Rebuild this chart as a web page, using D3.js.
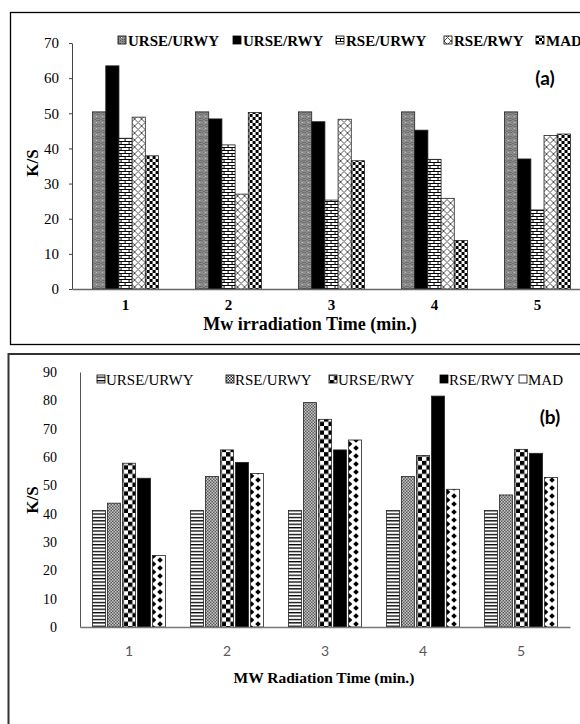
<!DOCTYPE html>
<html>
<head>
<meta charset="utf-8">
<script src="https://cdn.jsdelivr.net/npm/d3@7"></script>
<style>
  html, body { margin: 0; padding: 0; background: #fff; overflow: hidden; }
  svg { display: block; }
</style>
</head>
<body>
<div id="chart"></div>
<script>
const width = 580, height = 724;

// ---- data ----
const categories = ['1', '2', '3', '4', '5'];

// panel (a)
const seriesA = ['URSE/URWY', 'URSE/RWY', 'RSE/URWY', 'RSE/RWY', 'MAD'];
const aUrseUrwy = [50.4, 50.4, 50.4, 50.4, 50.4];
const aUrseRwy  = [63.5, 48.4, 47.6, 45.2, 37.0];
const aRseUrwy  = [42.9, 41.0, 25.3, 36.9, 22.5];
const aRseRwy   = [48.9, 27.0, 48.3, 25.8, 43.7];
const aMad      = [37.9, 50.2, 36.5, 13.8, 44.1];
const yTicksA = [0, 10, 20, 30, 40, 50, 60, 70];

// panel (b)
const seriesB = ['URSE/URWY', 'RSE/URWY', 'URSE/RWY', 'RSE/RWY', 'MAD'];
const bUrseUrwy = [41.1, 41.1, 41.1, 41.1, 41.1];
const bRseUrwy  = [43.7, 53.1, 79.2, 53.1, 46.6];
const bUrseRwy  = [57.8, 62.5, 73.3, 60.5, 62.7];
const bRseRwy   = [52.5, 58.1, 62.5, 81.5, 61.3];
const bMad      = [25.2, 54.2, 66.0, 48.6, 52.8];
const yTicksB = [0, 10, 20, 30, 40, 50, 60, 70, 80, 90];

const valuesA = [aUrseUrwy, aUrseRwy, aRseUrwy, aRseRwy, aMad];
const valuesB = [bUrseUrwy, bRseUrwy, bUrseRwy, bRseRwy, bMad];

const serif = "'Liberation Serif', 'Times New Roman', serif";

const svg = d3.select('#chart')
    .append('svg')
    .attr('width', width)
    .attr('height', height);

const defs = svg.append('defs');

function pattern(id, w, h, x) {
    return defs.append('pattern')
        .attr('id', id)
        .attr('patternUnits', 'userSpaceOnUse')
        .attr('width', w)
        .attr('height', h)
        .attr('x', x || 0);
}

// ---- scales ----
const x0a = d3.scaleBand().domain(categories).range([72, 591]).paddingInner(0.36).paddingOuter(0.2);
const x1a = d3.scaleBand().domain(seriesA).range([0, x0a.bandwidth()]);
const ya = d3.scaleLinear().domain([0, 70]).range([289, 43]);

const x0b = d3.scaleBand().domain(categories).range([80, 570]).paddingInner(0.255).paddingOuter(0.1275);
const x1b = d3.scaleBand().domain(seriesB).range([0, x0b.bandwidth()]).paddingInner(0.13);
const yb = d3.scaleLinear().domain([0, 90]).range([627, 372]);

// ---- fill patterns, panel (a) ----
let p = pattern('a-dots', 6, 6);
p.append('rect').attr('width', 6).attr('height', 6).attr('fill', '#8c8c8c');
[[0, 0], [2, 2], [4, 4], [0, 4], [4, 0], [2, 5]].forEach(([px, py]) =>
    p.append('rect').attr('x', px).attr('y', py).attr('width', 1).attr('height', 1).attr('fill', '#555'));
p.append('rect').attr('x', 3).attr('y', 2).attr('width', 1).attr('height', 1).attr('fill', '#e8e8e8');

p = pattern('a-brick', 8, 6);
p.append('rect').attr('width', 8).attr('height', 6).attr('fill', '#fff');
p.append('path').attr('d', 'M0,0.5H8M0,3.5H8M0.5,0V3.5M4.5,3.5V6').attr('stroke', '#000').attr('stroke-width', 1);

p = pattern('a-cross', 7, 7);
p.append('rect').attr('width', 7).attr('height', 7).attr('fill', '#fff');
p.append('path').attr('d', 'M0,0L7,7M7,0L0,7').attr('stroke', '#555').attr('stroke-width', 1);

p = pattern('a-check', 6, 6);
p.append('rect').attr('width', 6).attr('height', 6).attr('fill', '#fff');
p.append('rect').attr('width', 3).attr('height', 3).attr('fill', '#000');
p.append('rect').attr('x', 3).attr('y', 3).attr('width', 3).attr('height', 3).attr('fill', '#000');

const fillsA = ['url(#a-dots)', '#000', 'url(#a-brick)', 'url(#a-cross)', 'url(#a-check)'];

// ---- fill patterns, panel (b) ----
p = pattern('b-hline', 4, 3.4);
p.append('rect').attr('width', 4).attr('height', 3.4).attr('fill', '#fff');
p.append('rect').attr('width', 4).attr('height', 1.3).attr('fill', '#000');

p = pattern('b-fine', 3, 3);
p.append('rect').attr('width', 3).attr('height', 3).attr('fill', '#fff');
p.append('rect').attr('width', 1.5).attr('height', 1.5).attr('fill', '#222');
p.append('rect').attr('x', 1.5).attr('y', 1.5).attr('width', 1.5).attr('height', 1.5).attr('fill', '#222');

const bw = x1b.bandwidth();
const offCheck = x0b(categories[0]) + x1b('URSE/RWY');
p = pattern('b-check', bw / 3 * 2, bw / 3 * 2, offCheck);
p.append('rect').attr('width', bw / 3 * 2).attr('height', bw / 3 * 2).attr('fill', '#fff');
p.append('rect').attr('width', bw / 3).attr('height', bw / 3).attr('fill', '#000');
p.append('rect').attr('x', bw / 3).attr('y', bw / 3).attr('width', bw / 3).attr('height', bw / 3).attr('fill', '#000');

// diamonds centred in each MAD bar: pattern repeats once per category step
const offMad = x0b(categories[0]) + x1b('MAD');
p = pattern('b-diamond', x0b.step(), 8, offMad);
p.append('rect').attr('width', x0b.step()).attr('height', 8).attr('fill', '#fff');
const dm = (cx, cy, r) => `M${cx},${cy - r}L${cx + r},${cy}L${cx},${cy + r}L${cx - r},${cy}Z`;
p.append('path')
    .attr('d', dm(bw / 2, 4, 2.8) + dm(0, 0, 2.8) + dm(0, 8, 2.8) + dm(bw, 0, 2.8) + dm(bw, 8, 2.8))
    .attr('fill', '#000');

const fillsB = ['url(#b-hline)', 'url(#b-fine)', 'url(#b-check)', '#000', 'url(#b-diamond)'];

// ---- panel frames ----
svg.append('rect').attr('x', 10.5).attr('y', 12.5).attr('width', 620).attr('height', 332)
    .attr('fill', 'none').attr('stroke', '#000').attr('stroke-width', 1.3);
svg.append('rect').attr('x', 8.5).attr('y', 354).attr('width', 620).attr('height', 420)
    .attr('fill', 'none').attr('stroke', '#333').attr('stroke-width', 2);

// ---- panel (a) ----
const gA = svg.append('g');

gA.append('g')
    .selectAll('g')
    .data(categories)
    .enter().append('g')
    .attr('transform', d => `translate(${x0a(d)},0)`)
    .selectAll('rect')
    .data((d, i) => seriesA.map((s, k) => ({ s, k, v: valuesA[k][i] })))
    .enter().append('rect')
    .attr('x', d => x1a(d.s))
    .attr('y', d => ya(d.v))
    .attr('width', x1a.bandwidth())
    .attr('height', d => ya(0) - ya(d.v))
    .attr('fill', d => fillsA[d.k])
    .attr('stroke', '#222')
    .attr('stroke-width', 0.8);

const axA = gA.append('g')
    .attr('transform', 'translate(72,0)')
    .call(d3.axisLeft(ya).tickValues(yTicksA).tickSize(3).tickSizeOuter(0).tickPadding(10));
axA.selectAll('text').attr('font-family', serif).attr('font-size', 15).attr('fill', '#000');
axA.selectAll('line,path').attr('stroke', '#444');

const axAx = gA.append('g')
    .attr('transform', `translate(0,${ya(0)})`)
    .call(d3.axisBottom(x0a).tickSize(0).tickSizeOuter(0).tickPadding(10));
axAx.select('.domain').attr('stroke', '#666').attr('stroke-width', 1.3);
axAx.selectAll('text').attr('font-family', serif).attr('font-size', 15).attr('font-weight', 'bold').attr('fill', '#000');

gA.append('text')
    .attr('transform', 'translate(38,163) rotate(-90)')
    .attr('text-anchor', 'middle')
    .attr('font-family', serif).attr('font-size', 17).attr('font-weight', 'bold')
    .text('K/S');

gA.append('text')
    .attr('x', 310).attr('y', 330)
    .attr('text-anchor', 'middle')
    .attr('font-family', serif).attr('font-size', 18).attr('font-weight', 'bold')
    .text('Mw irradiation Time (min.)');

gA.append('text')
    .attr('x', 545).attr('y', 85)
    .attr('text-anchor', 'middle')
    .attr('font-family', 'Lato, sans-serif').attr('font-size', 19).attr('font-weight', 'bold')
    .text('(a)');

// legend (a)
const legXa = [118, 233, 336, 444, 536];
const legA = gA.append('g')
    .selectAll('g')
    .data(seriesA)
    .enter().append('g')
    .attr('transform', (d, i) => `translate(${legXa[i]},41)`);
legA.append('rect')
    .attr('x', 0).attr('y', -5).attr('width', 8).attr('height', 8)
    .attr('fill', (d, i) => fillsA[i]).attr('stroke', '#000').attr('stroke-width', 0.8);
legA.append('text')
    .attr('x', 10).attr('y', 4.5)
    .attr('font-family', serif).attr('font-size', 15).attr('font-weight', 'bold')
    .text(d => d);

// ---- panel (b) ----
const gB = svg.append('g');

gB.append('g')
    .selectAll('g')
    .data(categories)
    .enter().append('g')
    .attr('transform', d => `translate(${x0b(d)},0)`)
    .selectAll('rect')
    .data((d, i) => seriesB.map((s, k) => ({ s, k, v: valuesB[k][i] })))
    .enter().append('rect')
    .attr('x', d => x1b(d.s))
    .attr('y', d => yb(d.v))
    .attr('width', x1b.bandwidth())
    .attr('height', d => yb(0) - yb(d.v))
    .attr('fill', d => fillsB[d.k])
    .attr('stroke', '#222')
    .attr('stroke-width', 0.8);

const axB = gB.append('g')
    .attr('transform', 'translate(80,0)')
    .call(d3.axisLeft(yb).tickValues(yTicksB).tickSize(0).tickSizeOuter(0).tickPadding(23));
axB.selectAll('text').attr('font-family', serif).attr('font-size', 14).attr('fill', '#000');
axB.select('.domain').attr('stroke', '#555');

const axBx = gB.append('g')
    .attr('transform', `translate(0,${yb(0)})`)
    .call(d3.axisBottom(x0b).tickSize(0).tickSizeOuter(0).tickPadding(19));
axBx.select('.domain').attr('stroke', '#777').attr('stroke-width', 1.5);
axBx.selectAll('text').attr('font-family', 'Lato, sans-serif').attr('font-size', 14).attr('fill', '#595959');

gB.append('text')
    .attr('transform', 'translate(38,500) rotate(-90)')
    .attr('text-anchor', 'middle')
    .attr('font-family', serif).attr('font-size', 17).attr('font-weight', 'bold')
    .text('K/S');

gB.append('text')
    .attr('x', 324).attr('y', 683)
    .attr('text-anchor', 'middle')
    .attr('font-family', serif).attr('font-size', 15.5).attr('font-weight', 'bold')
    .text('MW Radiation Time (min.)');

gB.append('text')
    .attr('x', 550).attr('y', 424)
    .attr('text-anchor', 'middle')
    .attr('font-family', 'Lato, sans-serif').attr('font-size', 19).attr('font-weight', 'bold')
    .text('(b)');

// legend (b)
const legXb = [97, 226, 329, 440, 519];
const legB = gB.append('g')
    .selectAll('g')
    .data(seriesB)
    .enter().append('g')
    .attr('transform', (d, i) => `translate(${legXb[i]},380)`);
legB.append('rect')
    .attr('x', 0).attr('y', -5).attr('width', 8).attr('height', 8)
    .attr('fill', (d, i) => fillsB[i]).attr('stroke', '#000').attr('stroke-width', 0.8);
legB.append('text')
    .attr('x', 9).attr('y', 4.5)
    .attr('font-family', serif).attr('font-size', 15)
    .text(d => d);
</script>
</body>
</html>
